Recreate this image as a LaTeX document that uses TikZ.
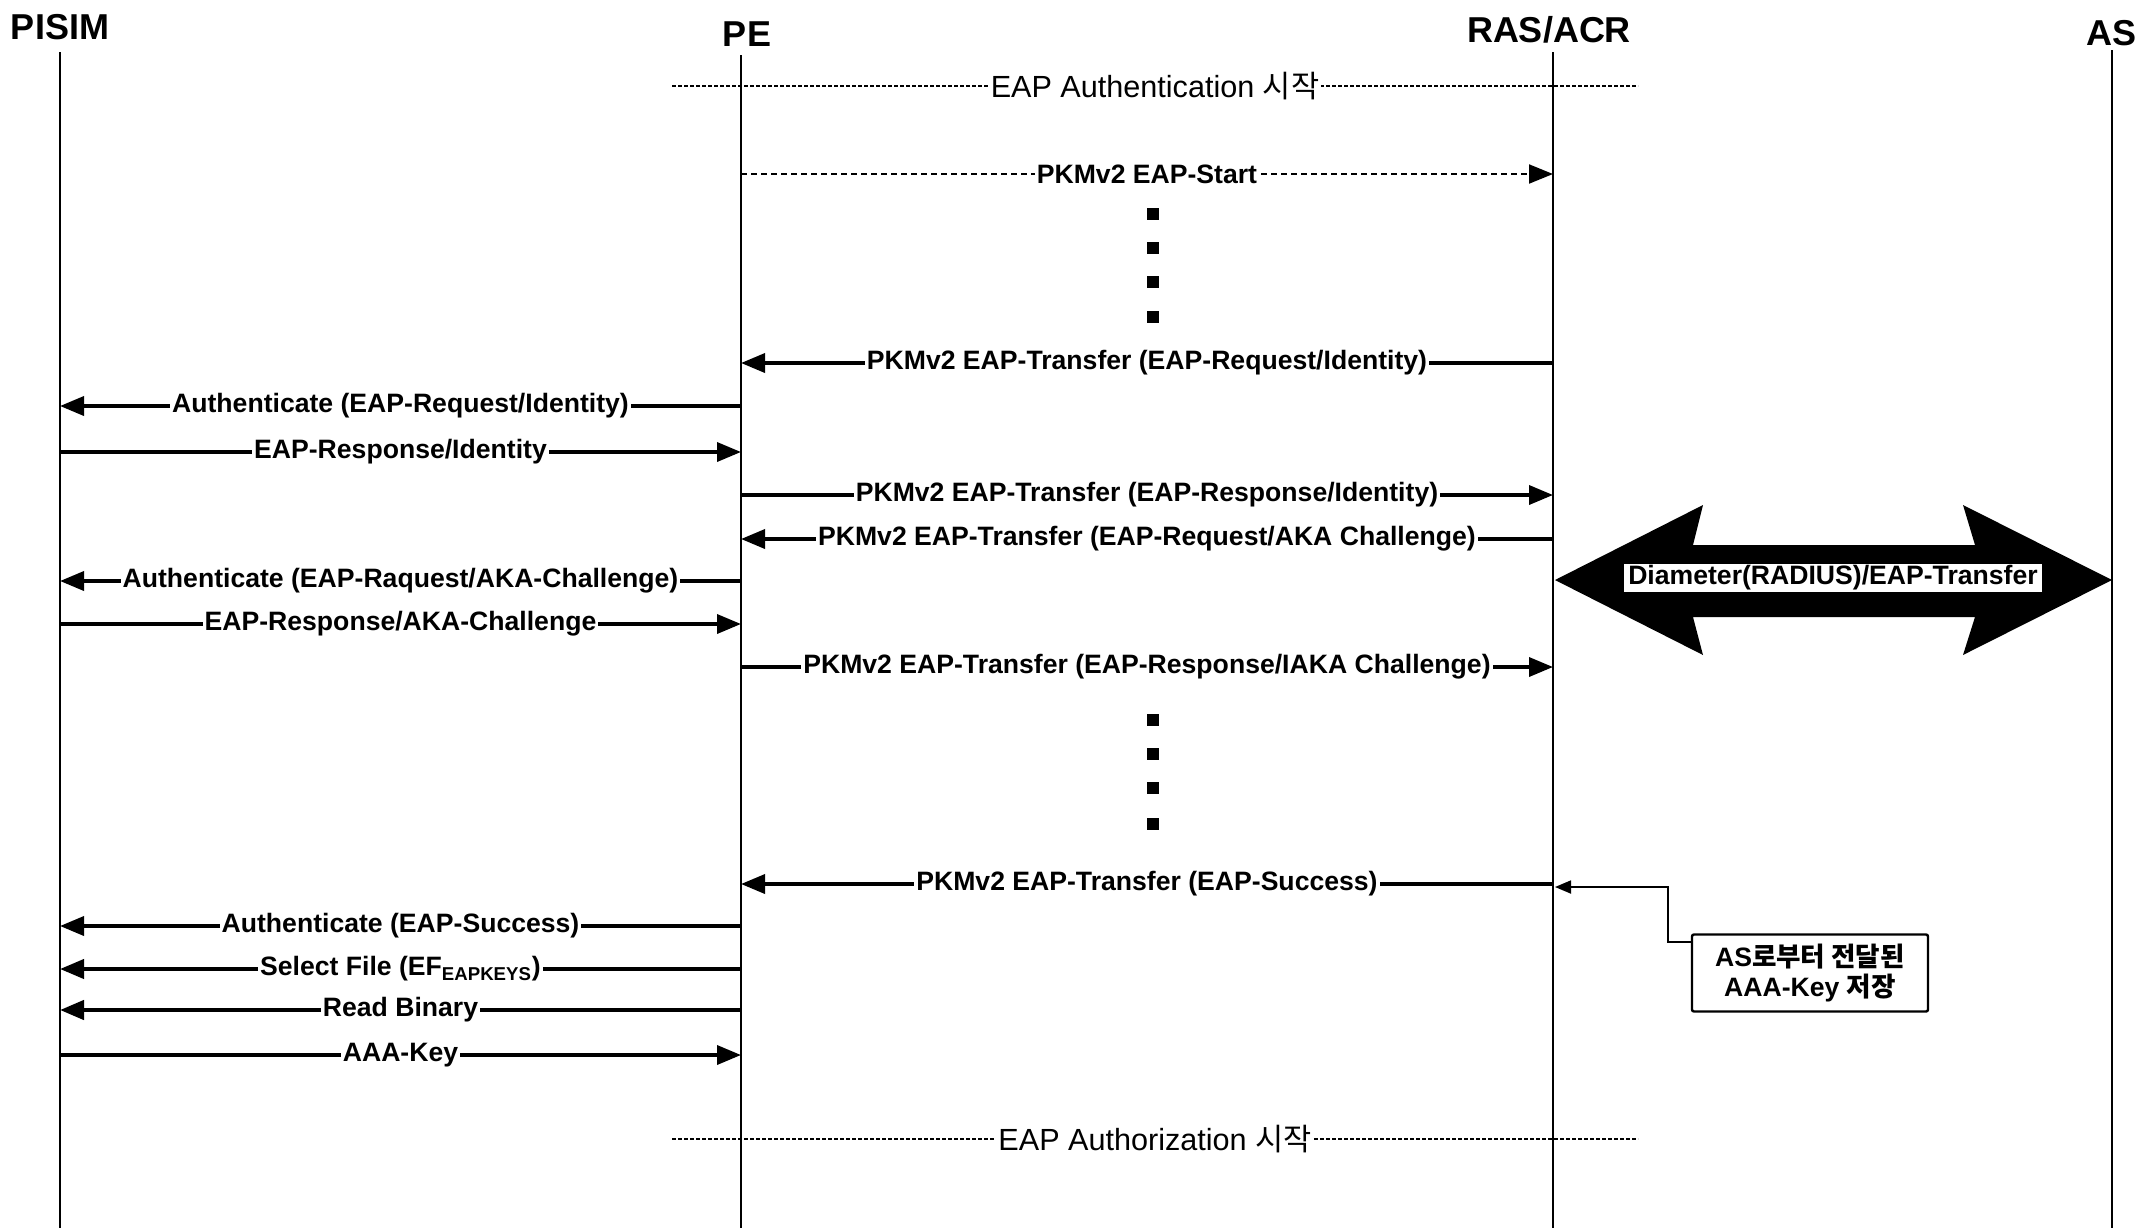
\documentclass[tikz,border=0pt]{standalone}
\usepackage{fontspec}
\setmainfont{Liberation Sans}
\newfontfamily\kr{Noto Sans CJK KR}
\usetikzlibrary{arrows.meta}

\begin{document}
\begin{tikzpicture}[x=0.5pt, y=-0.5pt,
    every node/.style={font=\bfseries\fontsize{13.3}{15}\selectfont},
    actor/.style={font=\bfseries\fontsize{18}{20}\selectfont, inner sep=0pt},
    life/.style={line width=1pt},
    msg/.style={line width=1.8pt, -{Triangle[length=12pt,width=9.5pt]}},
    dmsg/.style={line width=1pt, densely dashed, -{Triangle[length=12pt,width=9.5pt]}},
    phase/.style={line width=0.8pt, dash pattern=on 2pt off 1pt},
    lbl/.style={fill=white, inner xsep=1pt, inner ysep=0pt},
    phaselbl/.style={fill=white, inner xsep=1pt, inner ysep=0pt, font=\fontsize{15.3}{17}\selectfont},
    dot/.style={fill, rectangle, minimum size=6pt, inner sep=0pt},
    note/.style={draw, line width=1.2pt, align=center, inner sep=2pt, minimum width=118pt, minimum height=38.5pt, rounded corners=1pt}]

\useasboundingbox (0,0) rectangle (2149,1228);

% actors and lifelines
\node[actor] (pisim) at (60,27) {PISIM};
\node[actor] (pe) at (747,34) {PE};
\node[actor] (ras) at (1549,30) {RAS/ACR};
\node[actor] (as) at (2111,33) {AS};
\coordinate (pisimtop) at (60,52);   \coordinate (pisimbot) at (60,1228);
\coordinate (petop) at (741,55);     \coordinate (pebot) at (741,1228);
\coordinate (rastop) at (1553,52);   \coordinate (rasbot) at (1553,1228);
\coordinate (astop) at (2112,50);    \coordinate (asbot) at (2112,1228);
\draw[life] (pisimtop) -- (pisimbot);
\draw[life] (petop) -- (pebot);
\draw[life] (rastop) -- (rasbot);
\draw[life] (astop) -- (asbot);

% message rows
\foreach \n/\y in {start/174, req1/363, auth1/406, resp1/452, tr1/495, req2/539,
    auth2/581, resp2/624, tr2/667, succ/884, auth3/926, sel/969, read/1010, key/1055}{
  \coordinate (pisim-\n) at (60,\y);
  \coordinate (pe-\n) at (741,\y);
  \coordinate (ras-\n) at (1553,\y);
}

% phase markers
\coordinate (ph1l) at (672,86);    \coordinate (ph1r) at (1638,86);
\coordinate (ph2l) at (672,1139);  \coordinate (ph2r) at (1638,1139);
\draw[phase] (ph1l) -- node[phaselbl] (ph1) {EAP Authentication {\kr 시작}} (ph1r);
\draw[phase] (ph2l) -- node[phaselbl] (ph2) {EAP Authorization {\kr 시작}} (ph2r);

\draw[dmsg] (pe-start) -- node[lbl] (m0) {PKMv2 EAP-Start} (ras-start);
\foreach \y [count=\i] in {214,248,282,317,720,754,788,824}
  \node[dot] (dot\i) at (1153,\y) {};

\draw[msg] (ras-req1) -- node[lbl] (m1) {PKMv2 EAP-Transfer (EAP-Request/Identity)} (pe-req1);
\draw[msg] (pe-auth1) -- node[lbl] (m2) {Authenticate (EAP-Request/Identity)} (pisim-auth1);
\draw[msg] (pisim-resp1) -- node[lbl] (m3) {EAP-Response/Identity} (pe-resp1);
\draw[msg] (pe-tr1) -- node[lbl] (m4) {PKMv2 EAP-Transfer (EAP-Response/Identity)} (ras-tr1);
\draw[msg] (ras-req2) -- node[lbl] (m5) {PKMv2 EAP-Transfer (EAP-Request/AKA Challenge)} (pe-req2);
\draw[msg] (pe-auth2) -- node[lbl] (m6) {Authenticate (EAP-Raquest/AKA-Challenge)} (pisim-auth2);
\draw[msg] (pisim-resp2) -- node[lbl] (m7) {EAP-Response/AKA-Challenge} (pe-resp2);
\draw[msg] (pe-tr2) -- node[lbl] (m8) {PKMv2 EAP-Transfer (EAP-Response/IAKA Challenge)} (ras-tr2);
\draw[msg] (ras-succ) -- node[lbl] (m9) {PKMv2 EAP-Transfer (EAP-Success)} (pe-succ);
\draw[msg] (pe-auth3) -- node[lbl] (m10) {Authenticate (EAP-Success)} (pisim-auth3);
\draw[msg, line width=2pt] (pe-sel) -- node[lbl] (m11) {Select File (EF\textsubscript{EAPKEYS})} (pisim-sel);
\draw[msg, line width=2.2pt] (pe-read) -- node[lbl] (m12) {Read Binary} (pisim-read);
\draw[msg] (pisim-key) -- node[lbl] (m13) {AAA-Key} (pe-key);

% RAS/ACR <-> AS
\fill (1555,580) -- (1703,505) -- (1693,545) -- (1975,545) -- (1963,505) -- (2112,580)
  -- (1963,655) -- (1975,617) -- (1693,617) -- (1703,655) -- cycle;
\node[fill=white, inner xsep=2pt, inner ysep=1pt] (diam) at (1833,578) {Diameter(RADIUS)/EAP-Transfer};

% key note
\node[note] (keynote) at (1810,973) {AS{\kr 로부터 전달된}\\AAA-Key {\kr 저장}};
\coordinate (notebend) at (1668,942);
\coordinate (rasnote) at (1555,887);
\draw[line width=0.9pt, -{Triangle[length=8pt,width=6.5pt]}] (keynote.west |- notebend) -- (notebend) |- (rasnote);
\end{tikzpicture}
\end{document}
